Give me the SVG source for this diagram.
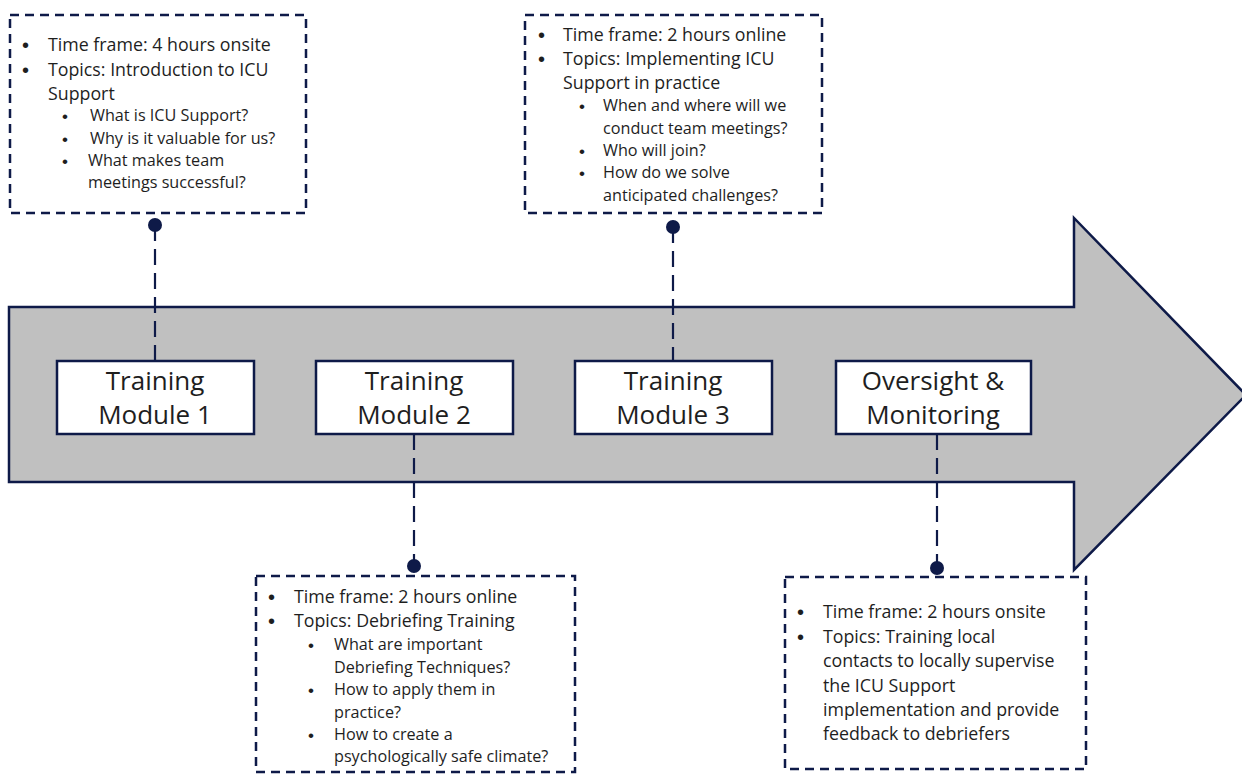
<svg xmlns="http://www.w3.org/2000/svg" width="1242" height="776" viewBox="0 0 1242 776">
<style>
.callout{fill:#fff;stroke:#0e1a48;stroke-width:2.5;stroke-dasharray:9 6}
.conn{stroke:#0e1a48;stroke-width:2.2;stroke-dasharray:16 8;fill:none}
.dot{fill:#0e1a48}
.node{fill:#fff;stroke:#0e1a48;stroke-width:2.5}
.lbl{font-family:"Open Sans",Lato,sans-serif;font-size:26px;fill:#1e1e1e;text-anchor:middle}
.t{font-family:"Open Sans",Lato,sans-serif;font-size:17.8px;fill:#1e1e1e}
.s{font-family:"Open Sans",Lato,sans-serif;font-size:16.2px;fill:#1e1e1e}
.b{font-family:"Liberation Sans",sans-serif;font-size:20px;fill:#1e1e1e}
.bs{font-family:"Liberation Sans",sans-serif;font-size:17px;fill:#1e1e1e}
</style>
<rect width="1242" height="776" fill="#fff"/>
<g id="arrow">
<path d="M9,307 H1074 V218 L1246,395 L1074,570 V482 H9 Z" fill="#c0c0c0" stroke="#0e1a48" stroke-width="2.5"/>
</g>
<g id="connectors">
<line class="conn" x1="155" y1="225" x2="155" y2="361"/>
<line class="conn" x1="673" y1="227" x2="673" y2="361"/>
<line class="conn" x1="414" y1="434" x2="414" y2="566"/>
<line class="conn" x1="937" y1="434" x2="937" y2="568"/>
<circle class="dot" cx="155" cy="225" r="7"/>
<circle class="dot" cx="673" cy="227" r="7"/>
<circle class="dot" cx="414" cy="566" r="7"/>
<circle class="dot" cx="937" cy="568" r="7"/>
</g>
<g id="module1">
<rect class="node" x="57" y="361" width="197" height="73"/>
<text class="lbl" x="155" y="390">Training</text>
<text class="lbl" x="155" y="424">Module 1</text>
</g>
<g id="module2">
<rect class="node" x="316" y="361" width="197" height="73"/>
<text class="lbl" x="414" y="390">Training</text>
<text class="lbl" x="414" y="424">Module 2</text>
</g>
<g id="module3">
<rect class="node" x="575" y="361" width="197" height="73"/>
<text class="lbl" x="673" y="390">Training</text>
<text class="lbl" x="673" y="424">Module 3</text>
</g>
<g id="oversight">
<rect class="node" x="836" y="361" width="195" height="73"/>
<text class="lbl" x="933" y="390">Oversight &amp;</text>
<text class="lbl" x="933" y="424">Monitoring</text>
</g>
<g id="callout1">
<rect class="callout" x="10" y="15" width="296" height="198"/>
<text class="b" x="22" y="52">•</text><text class="t" x="48" y="51">Time frame: 4 hours onsite</text>
<text class="b" x="22" y="77">•</text><text class="t" x="48" y="76">Topics: Introduction to ICU</text>
<text class="t" x="48" y="100">Support</text>
<text class="bs" x="62" y="122">•</text><text class="s" x="90" y="121">What is ICU Support?</text>
<text class="bs" x="62" y="145">•</text><text class="s" x="90" y="144">Why is it valuable for us?</text>
<text class="bs" x="62" y="167">•</text><text class="s" x="88" y="166">What makes team</text>
<text class="s" x="88" y="188">meetings successful?</text>
</g>
<g id="callout2">
<rect class="callout" x="525" y="15" width="297" height="198"/>
<text class="b" x="538" y="42">•</text><text class="t" x="563" y="41">Time frame: 2 hours online</text>
<text class="b" x="538" y="66">•</text><text class="t" x="563" y="65">Topics: Implementing ICU</text>
<text class="t" x="563" y="89">Support in practice</text>
<text class="bs" x="579" y="112">•</text><text class="s" x="603" y="111">When and where will we</text>
<text class="s" x="603" y="134">conduct team meetings?</text>
<text class="bs" x="579" y="157">•</text><text class="s" x="603" y="156">Who will join?</text>
<text class="bs" x="579" y="179">•</text><text class="s" x="603" y="178">How do we solve</text>
<text class="s" x="603" y="201">anticipated challenges?</text>
</g>
<g id="callout3">
<rect class="callout" x="256" y="576" width="319" height="196"/>
<text class="b" x="268" y="604">•</text><text class="t" x="294" y="603">Time frame: 2 hours online</text>
<text class="b" x="268" y="628">•</text><text class="t" x="294" y="627">Topics: Debriefing Training</text>
<text class="bs" x="308" y="651">•</text><text class="s" x="334" y="650">What are important</text>
<text class="s" x="334" y="673">Debriefing Techniques?</text>
<text class="bs" x="308" y="696">•</text><text class="s" x="334" y="695">How to apply them in</text>
<text class="s" x="334" y="718">practice?</text>
<text class="bs" x="308" y="741">•</text><text class="s" x="334" y="740">How to create a</text>
<text class="s" x="334" y="762">psychologically safe climate?</text>
</g>
<g id="callout4">
<rect class="callout" x="785" y="577" width="301" height="192"/>
<text class="b" x="797" y="619">•</text><text class="t" x="823" y="618">Time frame: 2 hours onsite</text>
<text class="b" x="797" y="644">•</text><text class="t" x="823" y="643">Topics: Training local</text>
<text class="t" x="823" y="667">contacts to locally supervise</text>
<text class="t" x="823" y="692">the ICU Support</text>
<text class="t" x="823" y="716">implementation and provide</text>
<text class="t" x="823" y="740">feedback to debriefers</text>
</g>
</svg>
